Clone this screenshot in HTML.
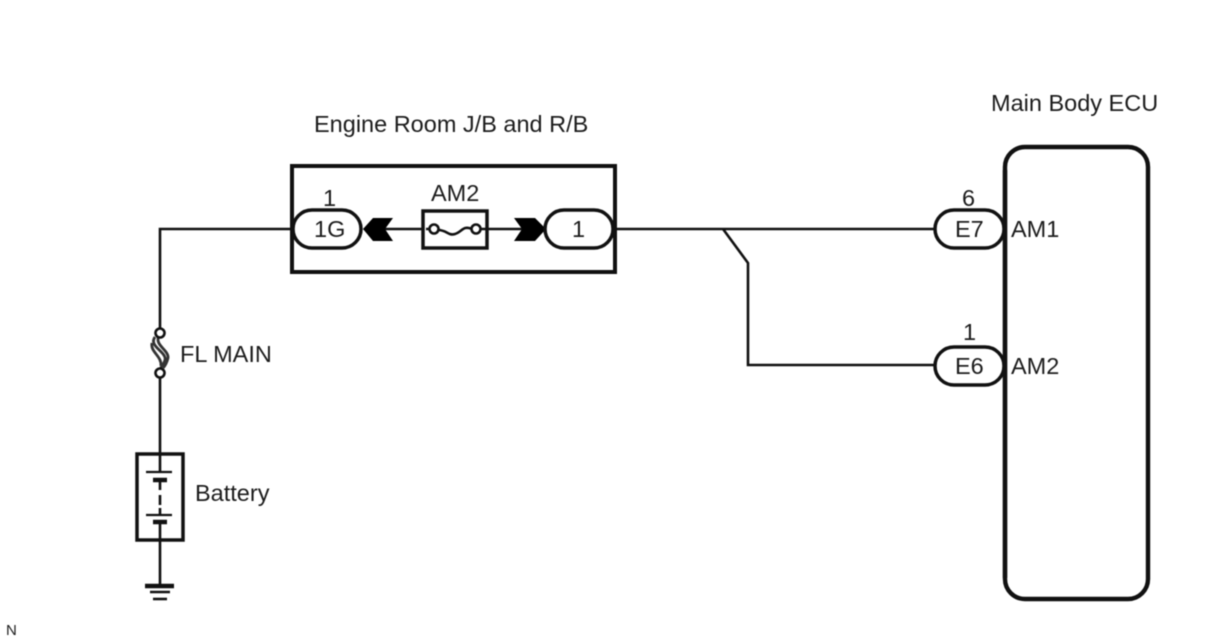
<!DOCTYPE html>
<html><head><meta charset="utf-8"><style>
html,body{margin:0;padding:0;background:#fff}
svg{display:block;filter:blur(0.45px)}
text{font-family:"Liberation Sans",sans-serif;font-size:23.5px;fill:#1c1c1c}
</style></head><body>
<svg width="1208" height="644" viewBox="0 0 1208 644" xmlns="http://www.w3.org/2000/svg">
<rect width="1208" height="644" fill="#fff"/>
<g fill="none" stroke="#111" stroke-width="2.6">
<path d="M293 229H160V328M160 375V454M160 540V585"/>
<path d="M612 229H935M723 229L748 263V365H935"/>
<path d="M385 229H545"/>
<rect x="292" y="166" width="323" height="106" stroke-width="4"/>
<rect x="1005" y="147" width="143" height="452" rx="20" stroke-width="4.4"/>
</g>
<rect x="423" y="211" width="64" height="37" fill="#fff" stroke="#111" stroke-width="3.5"/>
<path d="M426 229H487" stroke="#111" stroke-width="2.6"/>
<rect x="430" y="222" width="50" height="14" fill="#fff"/>
<path d="M438 230C447 230 448 236 455 234C462 232 463 225 472 229" fill="none" stroke="#111" stroke-width="2.6"/>
<circle cx="434" cy="229" r="4.5" fill="#fff" stroke="#111" stroke-width="2.6"/>
<circle cx="476" cy="229" r="4.5" fill="#fff" stroke="#111" stroke-width="2.6"/>
<path d="M363 229L373 218H393L385 229L393 241H373Z" fill="#000"/>
<path d="M546 229L535 218H514L522 229L514 241H535Z" fill="#000"/>
<g fill="#fff" stroke="#111" stroke-width="3.5">
<rect x="293" y="210" width="68" height="38" rx="19"/>
<rect x="545" y="210" width="68" height="38" rx="19"/>
<rect x="935" y="210" width="69" height="38" rx="19"/>
<rect x="935" y="347" width="69" height="38" rx="19"/>
</g>
<path d="M1005 170V578" stroke="#111" stroke-width="4.4"/>
<path d="M155 337C148 346 167 352 165 360C164 364 162 366 160 369M159 336C154 345 169 350 168 358C167 362 166 365 163 368M152 343C150 352 162 356 161 366" fill="none" stroke="#333" stroke-width="2.8"/>
<circle cx="160" cy="333" r="4.5" fill="#fff" stroke="#111" stroke-width="2.6"/>
<circle cx="160" cy="373" r="4.5" fill="#fff" stroke="#111" stroke-width="2.6"/>
<rect x="137" y="454" width="46" height="86" fill="none" stroke="#111" stroke-width="3.5"/>
<g stroke="#111" fill="none">
<path d="M146 472H172M146 515H172" stroke-width="2.2"/>
<path d="M153 480H167M153 522H167" stroke-width="4.5"/>
<path d="M160 454V472M160 480V490M160 495V505M160 508V515M160 522V540" stroke-width="2.6"/>
<path d="M145 586H174" stroke-width="4.5"/>
<path d="M150 592H170" stroke-width="2.6"/>
<path d="M153 599H167" stroke-width="2.6"/>
</g>
<text x="991" y="111">Main Body ECU</text>
<text x="314" y="132">Engine Room J/B and R/B</text>
<text x="431" y="201">AM2</text>
<text x="323" y="206">1</text>
<text x="314" y="237">1G</text>
<text x="572" y="237">1</text>
<text x="962" y="206">6</text>
<text x="955" y="237">E7</text>
<text x="1011" y="237">AM1</text>
<text x="963" y="340">1</text>
<text x="955" y="374">E6</text>
<text x="1011" y="374">AM2</text>
<text x="180" y="362">FL MAIN</text>
<text x="195" y="501">Battery</text>
<text x="6" y="635" style="font-size:15px">N</text>
</svg>
</body></html>
